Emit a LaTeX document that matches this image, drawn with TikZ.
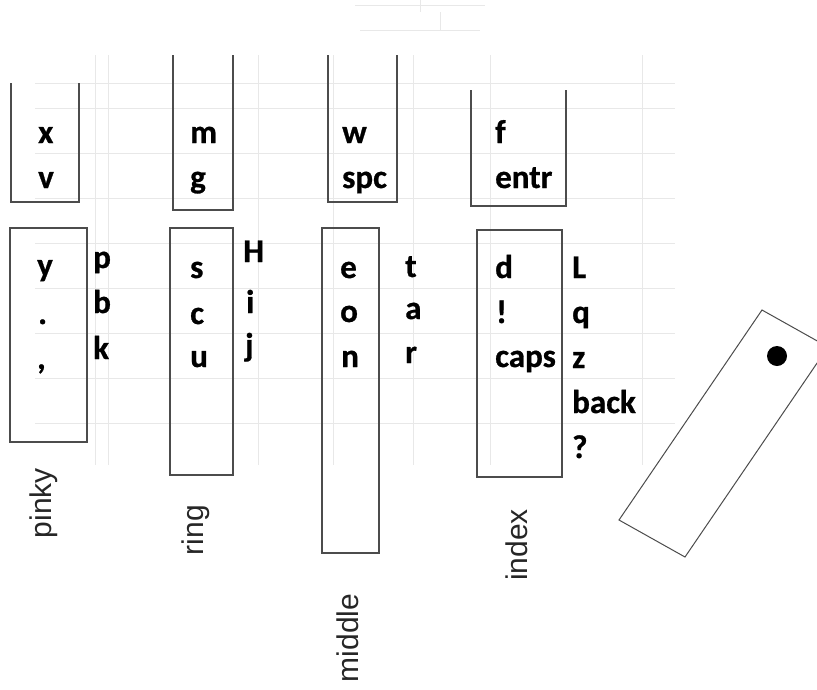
\documentclass[tikz,border=0pt]{standalone}
\usepackage{fontspec}
\newfontfamily\keyfont{Carlito}[BoldFeatures={FakeBold=0.8}]
\newfontfamily\labelfont{Liberation Sans}
\tikzset{
  key/.style={anchor=base west, inner sep=0pt, text=black,
    font=\keyfont\bfseries\fontsize{33}{40}\selectfont},
  fingerlabel/.style={rotate=90, inner sep=0pt, text=black!85,
    font=\labelfont\fontsize{30}{36}\selectfont},
  box/.style={draw=black!70, line width=1.1pt},
  gridline/.style={draw=black!9, line width=0.8pt}
}
\begin{document}
\begin{tikzpicture}[x=1pt, y=-1pt]
\clip (0,0) rectangle (817,689);
\fill[white] (0,0) rectangle (817,689);
% faint spreadsheet grid
\foreach \yy in {83,108,153,198,243,288,333,378,423}
  \draw[gridline] (35,\yy) -- (675,\yy);
\foreach \xx in {95,108,258,333,413,490,642}
  \draw[gridline] (\xx,55) -- (\xx,465);
\draw[gridline] (355,5) -- (485,5);
\draw[gridline] (360,30) -- (480,30);
\draw[gridline] (420,0) -- (420,12);
\draw[gridline] (440,12) -- (440,30);
% top open boxes
\draw[box] (11,83) -- (11,202) -- (79,202) -- (79,83);
\draw[box] (173,55) -- (173,210) -- (233,210) -- (233,55);
\draw[box] (328,55) -- (328,202) -- (397,202) -- (397,55);
\draw[box] (471,90) -- (471,206) -- (566,206) -- (566,90);
% bottom boxes
\draw[box] (10,228) rectangle (87,442);
\draw[box] (170,228) rectangle (233,475);
\draw[box] (322,228) rectangle (379,553);
\draw[box] (477,230) rectangle (562,477);
% tilted box with dot
\draw[box, line width=1pt] (619,520) -- (762,310) -- (828,347) -- (685,557) -- cycle;
\fill[black] (777,356) circle (10);
% top box texts
\node[key] (tx) at (38,143) {x};
\node[key] (tv) at (38,188) {v};
\node[key] (tm) at (190,143) {m};
\node[key] (tg) at (190,188) {g};
\node[key] (tw) at (342,143) {w};
\node[key] (tspc) at (342,188) {spc};
\node[key] (tf) at (495,143) {f};
\node[key] (tentr) at (495,188) {entr};
% pinky
\node[key] (py) at (37,276) {y};
\node[key] (pdot) at (38,324) {.};
\node[key] (pcom) at (37,369) {,};
\node[key] (pp) at (93,268) {p};
\node[key] (pb) at (93,313) {b};
\node[key] (pk) at (93,359) {k};
% ring
\node[key] (rs) at (190,278) {s};
\node[key] (rc) at (190,324) {c};
\node[key] (ru) at (190,367) {u};
\node[key] (rH) at (243,262) {H};
\node[key] (ri) at (246,313) {i};
\node[key] (rj) at (245,356) {j};
% middle
\node[key] (me) at (340,278) {e};
\node[key] (mo) at (340,322) {o};
\node[key] (mn) at (341,367) {n};
\node[key] (mt) at (405,277) {t};
\node[key] (ma) at (405,319) {a};
\node[key] (mr) at (405,363) {r};
% index
\node[key] (id) at (495,278) {d};
\node[key] (iex) at (496,323) {!};
\node[key] (icaps) at (495,367) {caps};
\node[key] (iL) at (572,278) {L};
\node[key] (iq) at (572,323) {q};
\node[key] (iz) at (572,368) {z};
\node[key] (iback) at (572,413) {back};
\node[key] (iq2) at (572,458) {?};
% finger labels
\node[fingerlabel] (lpinky) at (44,503) {pinky};
\node[fingerlabel] (lring) at (196,530) {ring};
\node[fingerlabel] (lmiddle) at (348,638) {middle};
\node[fingerlabel] (lindex) at (517,545) {index};
\end{tikzpicture}
\end{document}
